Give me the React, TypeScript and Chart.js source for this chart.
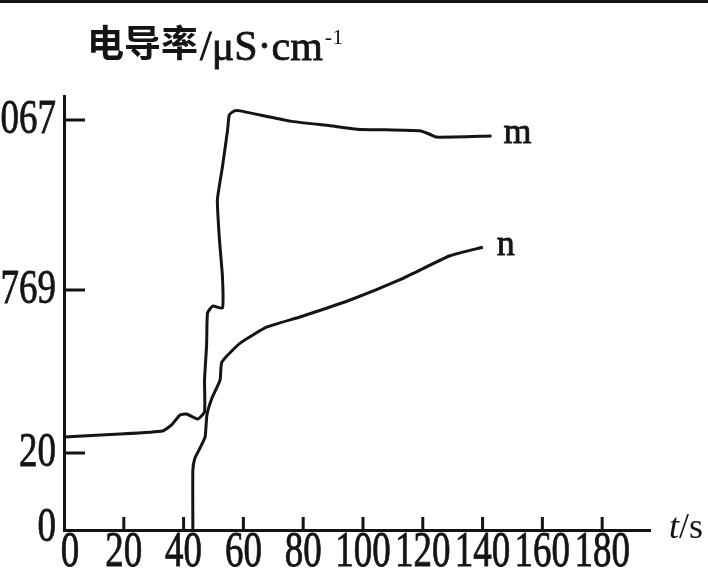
import React, { useEffect, useRef } from 'react';
import { Chart, registerables, LinearScale } from 'chart.js';

// ---- data ----
const X_TICKS = [0, 20, 40, 60, 80, 100, 120, 140, 160, 180];
const Y_TICKS = [0, 20, 769, 1067];
const Y_TOP = 1109;
const X_MAX = 196;

const M_TIME = [0, 18.7, 33, 36, 38.8, 41, 44.7, 47, 47, 47.7, 48, 49.7, 53, 53, 52, 51.3, 53, 54.7, 55.3, 57, 59, 75.7, 89, 98, 119, 122.3, 124.7, 143];
const M_VALUE = [94, 107, 121, 149, 195, 199, 176, 208, 355, 516, 663, 695, 686, 792, 857, 927, 985, 1049, 1076, 1083, 1083, 1065, 1057, 1051, 1048, 1042, 1037, 1039];

const N_TIME = [43.1, 43.1, 43.8, 45.5, 47.2, 47.8, 49.5, 52.2, 52.8, 58.9, 67.9, 78.9, 95.7, 112.4, 129.1, 140.1];
const N_VALUE = [0, 15.6, 18.7, 43, 94, 195, 273, 355, 438, 525, 599, 645, 723, 787, 829, 844];

const TITLE_CN = '电导率';
const TITLE_UNIT = '/μS·cm';
const TITLE_SUP = '-1';
const X_UNIT_T = 't';
const X_UNIT_S = '/s';
const SERIES_NAMES = ['m', 'n'];

// ---- broken (piecewise) y scale layout ----
const Y_BREAK_VALUES = [...Y_TICKS, Y_TOP];
const Y_BREAK_FRACS = [0, 0.1774, 0.553, 0.9447, 1];

function valueToFrac(v: number): number {
  const vs = Y_BREAK_VALUES, fs = Y_BREAK_FRACS;
  let i = 0;
  while (i < vs.length - 2 && v > vs[i + 1]) i++;
  return fs[i] + ((v - vs[i]) / (vs[i + 1] - vs[i])) * (fs[i + 1] - fs[i]);
}
function fracToValue(f: number): number {
  const vs = Y_BREAK_VALUES, fs = Y_BREAK_FRACS;
  let i = 0;
  while (i < fs.length - 2 && f > fs[i + 1]) i++;
  return vs[i] + ((f - fs[i]) / (fs[i + 1] - fs[i])) * (vs[i + 1] - vs[i]);
}

class BrokenLinearScale extends LinearScale {
  static id = 'brokenLinear';
  static defaults = LinearScale.defaults;
  getPixelForValue(value: any) {
    if (value === null || value === undefined || isNaN(value)) return NaN;
    return (this as any).getPixelForDecimal(valueToFrac(value));
  }
  getValueForPixel(pixel: number) {
    return fracToValue((this as any).getDecimalForPixel(pixel));
  }
}

Chart.register(...registerables, BrokenLinearScale as any);

const INK = '#141414';
const SERIF = '"Liberation Serif", "DejaVu Serif", serif';

function stretchedText(ctx: CanvasRenderingContext2D, text: string, x: number, y: number, font: string, align: CanvasTextAlign, sy: number) {
  ctx.save();
  ctx.translate(x, y);
  ctx.scale(1, sy);
  ctx.font = font;
  ctx.textAlign = align;
  ctx.textBaseline = 'middle';
  ctx.fillText(text, 0, 0);
  ctx.lineWidth = 0.6;
  ctx.strokeText(text, 0, 0);
  ctx.restore();
}

const decorPlugin = {
  id: 'decor',
  afterDraw(chart: any) {
    const ctx: CanvasRenderingContext2D = chart.ctx;
    const xs = chart.scales.x;
    const ys = chart.scales.y;
    const { left, bottom, right } = chart.chartArea;
    ctx.save();
    ctx.fillStyle = INK;
    ctx.strokeStyle = INK;

    // top scan border
    ctx.fillRect(0, 0, chart.width, 3);

    // inward ticks
    ctx.lineWidth = 3;
    ctx.lineCap = 'butt';
    Y_TICKS.forEach((v) => {
      if (v === 0) return;
      const py = ys.getPixelForValue(v);
      ctx.beginPath();
      ctx.moveTo(left, py);
      ctx.lineTo(left + 21, py);
      ctx.stroke();
    });
    X_TICKS.forEach((v) => {
      if (v === 0) return;
      const px = xs.getPixelForValue(v);
      ctx.beginPath();
      ctx.moveTo(px, bottom);
      ctx.lineTo(px, bottom - 13);
      ctx.stroke();
    });

    // tick labels
    Y_TICKS.forEach((v) => {
      const py = ys.getPixelForValue(v);
      stretchedText(ctx, String(v), left - 8, py + (v === 0 ? -2 : 0), `37px ${SERIF}`, 'right', 1.3);
    });
    X_TICKS.forEach((v) => {
      const px = xs.getPixelForValue(v);
      stretchedText(ctx, String(v), px + (v === 0 ? 6 : 0), bottom + 23, `37px ${SERIF}`, 'center', 1.35);
    });

    // axis unit t/s
    ctx.save();
    ctx.textBaseline = 'alphabetic';
    ctx.textAlign = 'left';
    ctx.font = `italic 36px ${SERIF}`;
    const ux = right + 19;
    const uy = bottom + 8;
    ctx.fillText(X_UNIT_T, ux, uy);
    const tw = ctx.measureText(X_UNIT_T).width;
    ctx.font = `36px ${SERIF}`;
    ctx.fillText(X_UNIT_S, ux + tw, uy);
    ctx.restore();

    // title
    ctx.save();
    ctx.textAlign = 'left';
    ctx.textBaseline = 'middle';
    ctx.font = `bold 37px "Noto Sans CJK SC", sans-serif`;
    const tx = 87;
    ctx.fillText(TITLE_CN, tx, 43);
    const cw = ctx.measureText(TITLE_CN).width;
    ctx.textBaseline = 'alphabetic';
    ctx.font = `42px ${SERIF}`;
    ctx.lineWidth = 0.8;
    ctx.fillText(TITLE_UNIT, tx + cw + 2, 60);
    ctx.strokeText(TITLE_UNIT, tx + cw + 2, 60);
    const uw = ctx.measureText(TITLE_UNIT).width;
    ctx.font = `22px ${SERIF}`;
    ctx.fillText(TITLE_SUP, tx + cw + 4 + uw, 44);
    ctx.restore();

    // series labels
    ctx.save();
    ctx.font = `36px ${SERIF}`;
    ctx.textAlign = 'left';
    ctx.textBaseline = 'middle';
    const mx = xs.getPixelForValue(M_TIME[M_TIME.length - 1]);
    const my = ys.getPixelForValue(M_VALUE[M_VALUE.length - 1]);
    ctx.fillText(SERIES_NAMES[0], mx + 12, my - 2);
    ctx.lineWidth = 0.8;
    ctx.strokeText(SERIES_NAMES[0], mx + 12, my - 2);
    const nx = xs.getPixelForValue(N_TIME[N_TIME.length - 1]);
    const ny = ys.getPixelForValue(N_VALUE[N_VALUE.length - 1]);
    ctx.fillText(SERIES_NAMES[1], nx + 14, ny - 2);
    ctx.strokeText(SERIES_NAMES[1], nx + 14, ny - 2);
    ctx.restore();

    ctx.restore();
  },
};

export default function App() {
  const ref = useRef<HTMLCanvasElement>(null);
  useEffect(() => {
    document.body.style.margin = '0';
    const toPoints = (ts: number[], vs: number[]) => ts.map((t, i) => ({ x: t, y: vs[i] }));
    const chart = new Chart(ref.current as HTMLCanvasElement, {
      type: 'scatter',
      data: {
        datasets: [
          {
            label: SERIES_NAMES[0],
            data: toPoints(M_TIME, M_VALUE),
            showLine: true,
            borderColor: INK,
            borderWidth: 3,
            pointRadius: 0,
            tension: 0.15,
            clip: false,
          },
          {
            label: SERIES_NAMES[1],
            data: toPoints(N_TIME, N_VALUE),
            showLine: true,
            borderColor: INK,
            borderWidth: 3,
            pointRadius: 0,
            tension: 0.15,
            clip: false,
          },
        ],
      } as any,
      options: {
        animation: false,
        responsive: false,
        layout: { padding: { left: 64, top: 96, right: 58, bottom: 47 } },
        plugins: { legend: { display: false }, tooltip: { enabled: false } },
        scales: {
          x: {
            type: 'linear',
            min: 0,
            max: X_MAX,
            grid: { display: false, drawTicks: false },
            ticks: { display: false },
            border: { display: true, color: INK, width: 3 },
            afterFit: (s: any) => { s.height = 0; },
          },
          y: {
            type: 'brokenLinear',
            min: 0,
            max: Y_TOP,
            grid: { display: false, drawTicks: false },
            ticks: { display: false },
            border: { display: true, color: INK, width: 3 },
            afterFit: (s: any) => { s.width = 0; },
          },
        } as any,
      },
      plugins: [decorPlugin],
    });
    return () => chart.destroy();
  }, []);
  return <canvas ref={ref} width={708} height={577} style={{ display: 'block' }} />;
}
